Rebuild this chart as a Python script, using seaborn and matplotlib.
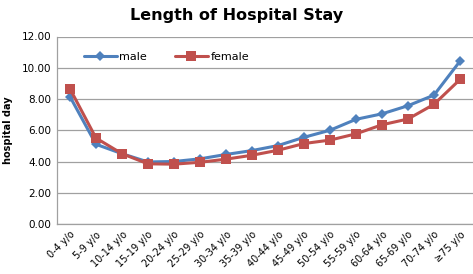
import pandas as pd
import seaborn as sns
import matplotlib.pyplot as plt

age_groups = ["0-4 y/o", "5-9 y/o", "10-14 y/o", "15-19 y/o", "20-24 y/o", "25-29 y/o",
              "30-34 y/o", "35-39 y/o", "40-44 y/o", "45-49 y/o", "50-54 y/o", "55-59 y/o",
              "60-64 y/o", "65-69 y/o", "70-74 y/o", "\u226575 y/o"]
male = [8.15, 5.1, 4.5, 3.97, 4.0, 4.17, 4.45, 4.7, 5.02, 5.55, 6.0, 6.7, 7.05, 7.57, 8.25, 10.42]
female = [8.65, 5.5, 4.5, 3.85, 3.83, 3.95, 4.15, 4.4, 4.72, 5.15, 5.37, 5.77, 6.35, 6.72, 7.66, 9.25]

df = pd.DataFrame({
    "age": age_groups * 2,
    "days": male + female,
    "sex": ["male"] * len(male) + ["female"] * len(female),
})

sns.set_style("white", {"text.color": "black", "xtick.color": "black", "ytick.color": "black",
                        "axes.labelcolor": "black"})
plt.rcParams["font.family"] = ["DejaVu Sans"]

fig = plt.figure(figsize=(4.73, 2.74), dpi=100)
ax = fig.add_axes([57 / 473, 50 / 274, 416 / 473, 187.5 / 274])

sns.lineplot(
    data=df, x="age", y="days", hue="sex", style="sex",
    palette={"male": "#4F81BD", "female": "#C0504D"},
    markers={"male": "D", "female": "s"}, dashes=False,
    linewidth=2.2, markersize=6.5, markeredgewidth=0, sort=False, ax=ax,
)
# diamond a bit smaller than square, as in the original
for line in ax.lines:
    if line.get_marker() == "D":
        line.set_markersize(5)

ax.set_ylim(0, 12)
ax.set_yticks([0, 2, 4, 6, 8, 10, 12])
ax.set_yticklabels([f"{v:.2f}" for v in [0, 2, 4, 6, 8, 10, 12]], fontsize=7.5)
ax.set_xlim(-0.5, len(age_groups) - 0.5)
ax.set_xticks(range(len(age_groups)))
ax.set_xticklabels(age_groups, rotation=45, ha="right", rotation_mode="anchor", fontsize=7)
ax.tick_params(axis="both", length=0, pad=4)
ax.grid(axis="y", color="#A0A0A0", linewidth=0.9)
ax.set_axisbelow(True)
for side in ["top", "right"]:
    ax.spines[side].set_visible(False)
for side in ["left", "bottom"]:
    ax.spines[side].set_color("#A0A0A0")
    ax.spines[side].set_linewidth(0.9)

ax.set_xlabel("")
ax.set_ylabel("hospital day", fontsize=7, fontweight="bold", labelpad=6)
fig.suptitle("Length of Hospital Stay", fontsize=11.5, fontweight="bold", y=0.97)

leg = ax.legend(loc="upper left", bbox_to_anchor=(0.04, 0.97), ncol=2, frameon=False,
                fontsize=8, handlelength=3, columnspacing=2.5, handletextpad=0.2)
for h in leg.legend_handles:
    if h.get_marker() == "D":
        h.set_markersize(5)

plt.savefig("out.png", dpi=100)
plt.close()
